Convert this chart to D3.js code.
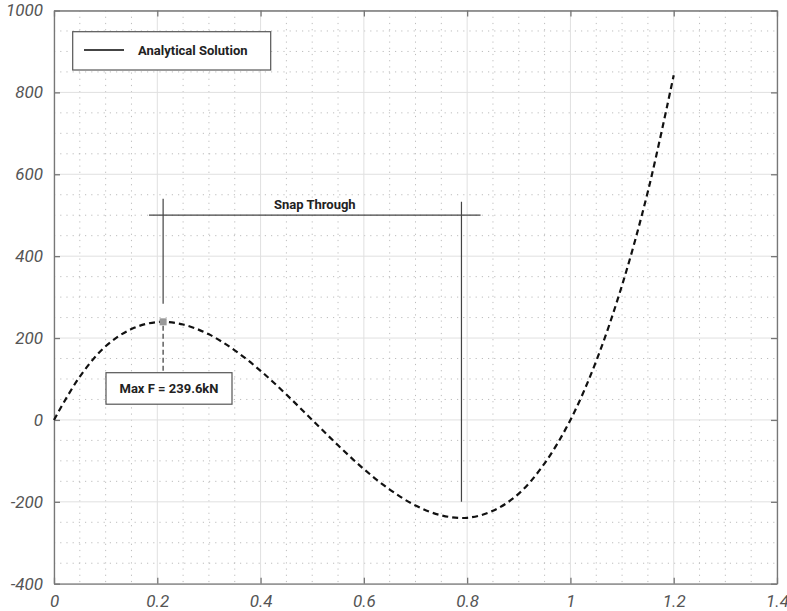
<!DOCTYPE html>
<html>
<head>
<meta charset="utf-8">
<script src="https://cdn.jsdelivr.net/npm/d3@7.9.0/dist/d3.min.js"></script>
<style>
  body { margin: 0; background: #fff; }
  svg { display: block; }
  .lbl { font-family: Roboto, sans-serif; font-weight: 700; font-size: 13px; fill: #222; }
</style>
</head>
<body>
<div id="chart"></div>
<script>
// displacement (m) vs force (kN)
const disp  = [0, 0.05, 0.1, 0.15, 0.2, 0.25, 0.3, 0.35, 0.4, 0.45, 0.5, 0.55, 0.6, 0.65, 0.7, 0.75, 0.8, 0.85, 0.9, 0.95, 1.0, 1.05, 1.1, 1.15, 1.2];
const force = [0, 106, 180, 222, 239, 233, 209, 170, 120, 62, 0, -62, -120, -170, -209, -233, -239, -222, -180, -106, 0, 144, 329, 558, 842];

const xTicks = [0, 0.2, 0.4, 0.6, 0.8, 1, 1.2, 1.4];
const yTicks = [-400, -200, 0, 200, 400, 600, 800, 1000];

const peak = { x: 0.2113, y: 239.6, label: 'Max F = 239.6kN' };
const snap = { y: 500, x0: 0.184, x1: 0.826, label: 'Snap Through' };
const snapLeft  = { x: 0.2113, top: 540, bottom: 284 };
const snapRight = { x: 0.789, top: 533, bottom: -200 };
const legendLabel = 'Analytical Solution';

const W = 787, H = 611;
const margin = { top: 10.5, right: 10, bottom: 27.3, left: 54 };

const svg = d3.select('#chart').append('svg').attr('width', W).attr('height', H);

const x = d3.scaleLinear().domain([0, 1.4]).range([margin.left, W - margin.right]);
const y = d3.scaleLinear().domain([-400, 1000]).range([H - margin.bottom, margin.top]);

// minor grid (dotted)
const xMinor = d3.range(0, 1.4001, 0.05).filter(v => Math.abs(v / 0.2 - Math.round(v / 0.2)) > 1e-6);
const yMinor = d3.range(-400, 1001, 50).filter(v => v % 200 !== 0);
const grid = svg.append('g');
grid.selectAll('.vm').data(xMinor).join('line')
  .attr('x1', d => x(d)).attr('x2', d => x(d))
  .attr('y1', y(1000)).attr('y2', y(-400))
  .attr('stroke', '#bdbdbd').attr('stroke-dasharray', '1.2,5');
grid.selectAll('.hm').data(yMinor).join('line')
  .attr('y1', d => y(d)).attr('y2', d => y(d))
  .attr('x1', x(0)).attr('x2', x(1.4))
  .attr('stroke', '#bdbdbd').attr('stroke-dasharray', '1.2,5');
// major grid
grid.selectAll('.vM').data(xTicks).join('line')
  .attr('x1', d => x(d)).attr('x2', d => x(d))
  .attr('y1', y(1000)).attr('y2', y(-400))
  .attr('stroke', '#e0e0e0');
grid.selectAll('.hM').data(yTicks).join('line')
  .attr('y1', d => y(d)).attr('y2', d => y(d))
  .attr('x1', x(0)).attr('x2', x(1.4))
  .attr('stroke', '#e0e0e0');

// frame with inward ticks
const fmt = d => String(d);
const gx = svg.append('g')
  .attr('transform', `translate(0,${y(-400)})`)
  .call(d3.axisBottom(x).tickValues(xTicks).tickFormat(fmt).tickSizeInner(-6).tickSizeOuter(0).tickPadding(11));
const gy = svg.append('g')
  .attr('transform', `translate(${x(0)},0)`)
  .call(d3.axisLeft(y).tickValues(yTicks).tickFormat(fmt).tickSizeInner(-6).tickSizeOuter(0).tickPadding(11));
svg.append('g')
  .attr('transform', `translate(0,${y(1000)})`)
  .call(d3.axisTop(x).tickValues(xTicks).tickFormat('').tickSizeInner(-6).tickSizeOuter(0));
svg.append('g')
  .attr('transform', `translate(${x(1.4)},0)`)
  .call(d3.axisRight(y).tickValues(yTicks).tickFormat('').tickSizeInner(-6).tickSizeOuter(0));
svg.selectAll('.domain, .tick line').attr('stroke', '#777').attr('stroke-width', 1.3);
svg.selectAll('.tick text')
  .style('font-family', 'Roboto, sans-serif')
  .style('font-style', 'italic')
  .style('font-size', '17px')
  .style('fill', '#555');

// curve
const pts = disp.map((d, i) => [d, force[i]]);
svg.append('path')
  .datum(pts)
  .attr('fill', 'none')
  .attr('stroke', '#111')
  .attr('stroke-width', 2.2)
  .attr('stroke-dasharray', '6,4')
  .attr('d', d3.line().x(d => x(d[0])).y(d => y(d[1])).curve(d3.curveCatmullRom));

// snap-through annotation
const ann = svg.append('g').attr('stroke', '#444').attr('stroke-width', 1.2);
ann.append('line')
  .attr('x1', x(snap.x0)).attr('x2', x(snap.x1))
  .attr('y1', y(snap.y)).attr('y2', y(snap.y));
ann.append('line')
  .attr('x1', x(snapLeft.x)).attr('x2', x(snapLeft.x))
  .attr('y1', y(snapLeft.top)).attr('y2', y(snapLeft.bottom));
ann.append('line')
  .attr('x1', x(snapRight.x)).attr('x2', x(snapRight.x))
  .attr('y1', y(snapRight.top)).attr('y2', y(snapRight.bottom));
svg.append('text').attr('class', 'lbl')
  .attr('x', x((snap.x0 + snap.x1) / 2)).attr('y', y(snap.y) - 6)
  .attr('text-anchor', 'middle').text(snap.label);

// peak marker and label box
const boxTop = 372.7;
svg.append('line')
  .attr('x1', x(peak.x)).attr('x2', x(peak.x))
  .attr('y1', y(peak.y) + 4).attr('y2', boxTop)
  .attr('stroke', '#555').attr('stroke-width', 1.4).attr('stroke-dasharray', '5,3');
svg.append('rect')
  .attr('x', x(peak.x) - 3.5).attr('y', y(peak.y) - 3.5)
  .attr('width', 7).attr('height', 7)
  .attr('fill', '#999');
svg.append('rect')
  .attr('x', 106).attr('y', boxTop).attr('width', 126).attr('height', 31.5)
  .attr('fill', '#fff').attr('stroke', '#555').attr('stroke-width', 1.2);
svg.append('text').attr('class', 'lbl')
  .attr('x', 169).attr('y', boxTop + 20.5)
  .attr('text-anchor', 'middle').text(peak.label);

// legend
const lg = svg.append('g');
lg.append('rect')
  .attr('x', 72.7).attr('y', 31.7).attr('width', 198).attr('height', 38.3)
  .attr('fill', '#fff').attr('stroke', '#555').attr('stroke-width', 1.2);
lg.append('line')
  .attr('x1', 84).attr('x2', 124).attr('y1', 50).attr('y2', 50)
  .attr('stroke', '#444').attr('stroke-width', 2);
lg.append('text').attr('class', 'lbl')
  .attr('x', 138).attr('y', 55).text(legendLabel);
</script>
</body>
</html>
